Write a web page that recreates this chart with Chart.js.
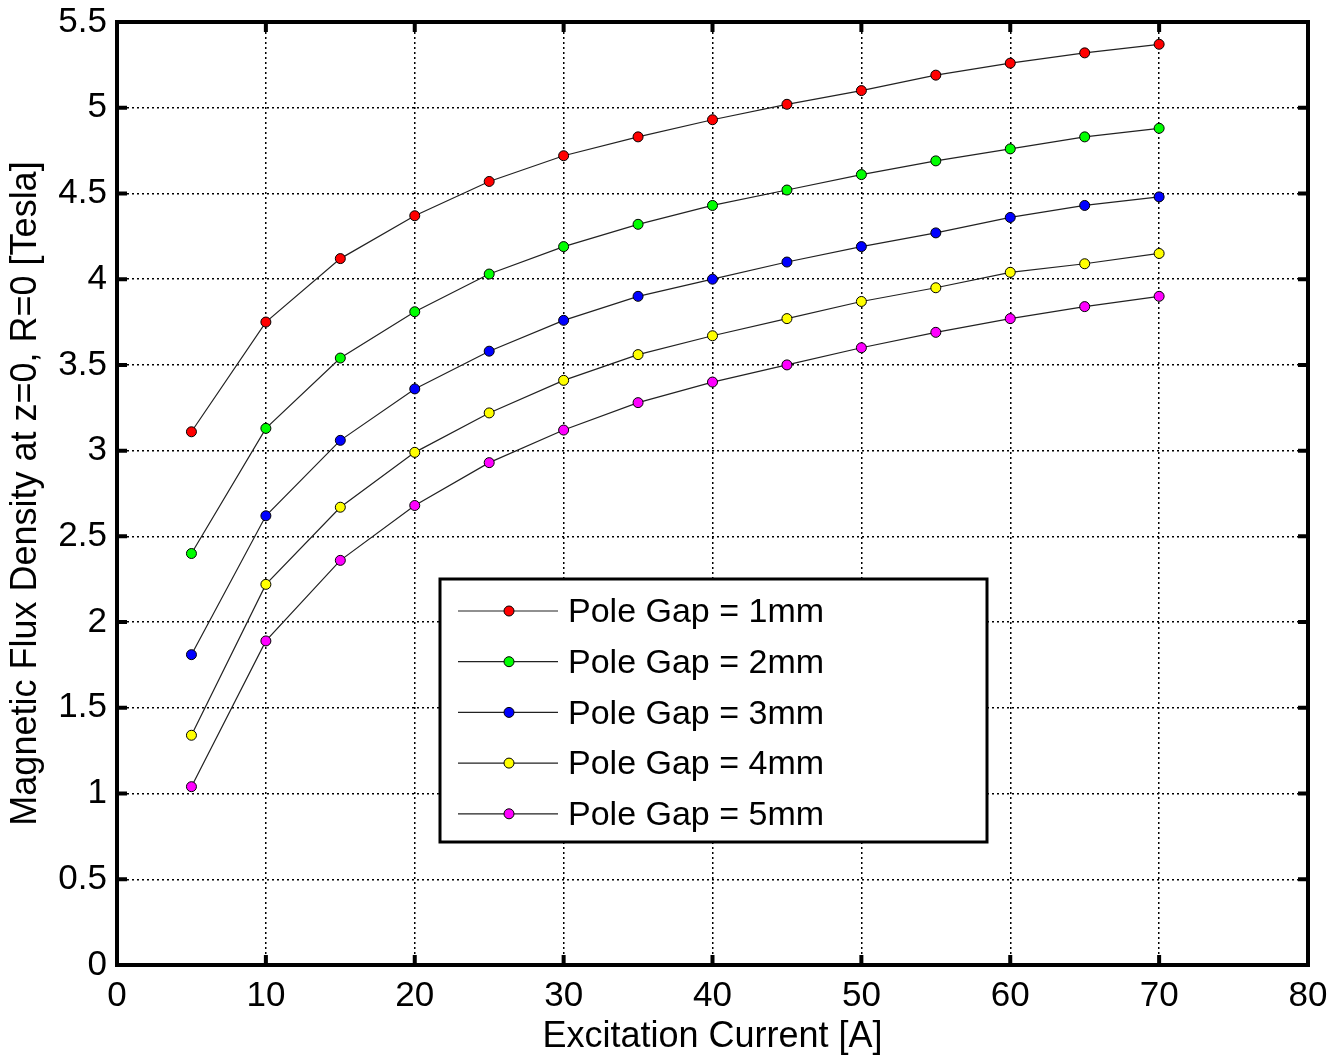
<!DOCTYPE html>
<html>
<head>
<meta charset="utf-8">
<script src="https://cdn.jsdelivr.net/npm/chart.js@4.4.1/dist/chart.umd.min.js"></script>
<style>
  html, body { margin: 0; padding: 0; background: #fff; }
  #wrap { width: 1343px; height: 1059px; }
</style>
</head>
<body>
<div id="wrap"><canvas id="myChart" width="1343" height="1059"></canvas></div>
<script>
const current = [5, 10, 15, 20, 25, 30, 35, 40, 45, 50, 55, 60, 65, 70];
const gap1mm = [3.11, 3.75, 4.12, 4.37, 4.57, 4.72, 4.83, 4.93, 5.02, 5.10, 5.19, 5.26, 5.32, 5.37];
const gap2mm = [2.40, 3.13, 3.54, 3.81, 4.03, 4.19, 4.32, 4.43, 4.52, 4.61, 4.69, 4.76, 4.83, 4.88];
const gap3mm = [1.81, 2.62, 3.06, 3.36, 3.58, 3.76, 3.90, 4.00, 4.10, 4.19, 4.27, 4.36, 4.43, 4.48];
const gap4mm = [1.34, 2.22, 2.67, 2.99, 3.22, 3.41, 3.56, 3.67, 3.77, 3.87, 3.95, 4.04, 4.09, 4.15];
const gap5mm = [1.04, 1.89, 2.36, 2.68, 2.93, 3.12, 3.28, 3.40, 3.50, 3.60, 3.69, 3.77, 3.84, 3.90];
const seriesLabels = ['Pole Gap = 1mm', 'Pole Gap = 2mm', 'Pole Gap = 3mm', 'Pole Gap = 4mm', 'Pole Gap = 5mm'];
const seriesValues = [gap1mm, gap2mm, gap3mm, gap4mm, gap5mm];
const markerColors = ['#ff0000', '#00ff00', '#0000ff', '#ffff00', '#ff00ff'];

const FONT = "'Liberation Sans', Arial, sans-serif";

const datasets = seriesValues.map((vals, i) => ({
    label: seriesLabels[i],
    data: vals.map((v, j) => ({ x: current[j], y: v })),
    borderColor: '#222',
    borderWidth: 1.2,
    backgroundColor: markerColors[i],
    pointBackgroundColor: markerColors[i],
    pointBorderColor: '#000',
    pointBorderWidth: 1,
    pointRadius: 5,
    tension: 0,
    fill: false
}));

// box frame with inward ticks + legend inside the plot
const matlabFrame = {
    id: 'matlabFrame',
    afterDraw: (chart) => {
        const ctx = chart.ctx;
        const a = chart.chartArea;
        const xs = chart.scales.x, ys = chart.scales.y;
        ctx.save();
        ctx.strokeStyle = '#000';
        ctx.lineWidth = 4;
        ctx.strokeRect(a.left, a.top, a.right - a.left, a.bottom - a.top);
        const tl = 10;
        ctx.beginPath();
        xs.ticks.forEach(t => {
            const px = xs.getPixelForValue(t.value);
            ctx.moveTo(px, a.bottom); ctx.lineTo(px, a.bottom - tl);
            ctx.moveTo(px, a.top); ctx.lineTo(px, a.top + tl);
        });
        ys.ticks.forEach(t => {
            const py = ys.getPixelForValue(t.value);
            ctx.moveTo(a.left, py); ctx.lineTo(a.left + tl, py);
            ctx.moveTo(a.right, py); ctx.lineTo(a.right - tl, py);
        });
        ctx.stroke();

        // legend box
        const bx = 440, by = 579, bw = 547, bh = 263;
        ctx.fillStyle = '#fff';
        ctx.fillRect(bx, by, bw, bh);
        ctx.lineWidth = 3;
        ctx.strokeRect(bx, by, bw, bh);
        const rowH = 50.7;
        ctx.font = '34px ' + FONT;
        ctx.textBaseline = 'middle';
        ctx.textAlign = 'left';
        chart.data.datasets.forEach((ds, i) => {
            const cy = by + 32 + i * rowH;
            ctx.strokeStyle = '#222';
            ctx.lineWidth = 1.2;
            ctx.beginPath();
            ctx.moveTo(bx + 18, cy); ctx.lineTo(bx + 118, cy);
            ctx.stroke();
            ctx.beginPath();
            ctx.arc(bx + 69, cy, 5, 0, Math.PI * 2);
            ctx.fillStyle = ds.pointBackgroundColor;
            ctx.fill();
            ctx.strokeStyle = '#000';
            ctx.lineWidth = 1;
            ctx.stroke();
            ctx.fillStyle = '#000';
            ctx.fillText(ds.label, bx + 128, cy + 2);
        });
        ctx.restore();
    }
};

new Chart(document.getElementById('myChart'), {
    type: 'line',
    data: { datasets },
    plugins: [matlabFrame],
    options: {
        responsive: false,
        animation: false,
        layout: { padding: { top: 22, right: 35, left: 0, bottom: 0 } },
        plugins: {
            legend: { display: false },
            tooltip: { enabled: false }
        },
        scales: {
            x: {
                type: 'linear',
                min: 0,
                max: 80,
                afterFit: (s) => { s.height = 94; s.paddingLeft = 0; s.paddingRight = 0; },
                ticks: {
                    stepSize: 10,
                    color: '#000',
                    font: { family: FONT, size: 35, lineHeight: 1 },
                    padding: 14,
                    maxRotation: 0
                },
                grid: { color: '#000', lineWidth: 1.5, drawTicks: false },
                border: { display: false, dash: [2, 3] },
                title: {
                    display: true,
                    text: 'Excitation Current [A]',
                    color: '#000',
                    font: { family: FONT, size: 36 },
                    padding: { top: 0, bottom: 0 }
                }
            },
            y: {
                type: 'linear',
                min: 0,
                max: 5.5,
                afterFit: (s) => { s.width = 117; s.paddingTop = 0; s.paddingBottom = 0; },
                ticks: {
                    stepSize: 0.5,
                    color: '#000',
                    font: { family: FONT, size: 35, lineHeight: 1 },
                    padding: 10,
                    callback: (v) => `${v}`
                },
                grid: { color: '#000', lineWidth: 1.5, drawTicks: false },
                border: { display: false, dash: [2, 3] },
                title: {
                    display: true,
                    text: 'Magnetic Flux Density at z=0, R=0 [Tesla]',
                    color: '#000',
                    font: { family: FONT, size: 36 },
                    padding: { top: 4, bottom: 0 }
                }
            }
        }
    }
});
</script>
</body>
</html>
